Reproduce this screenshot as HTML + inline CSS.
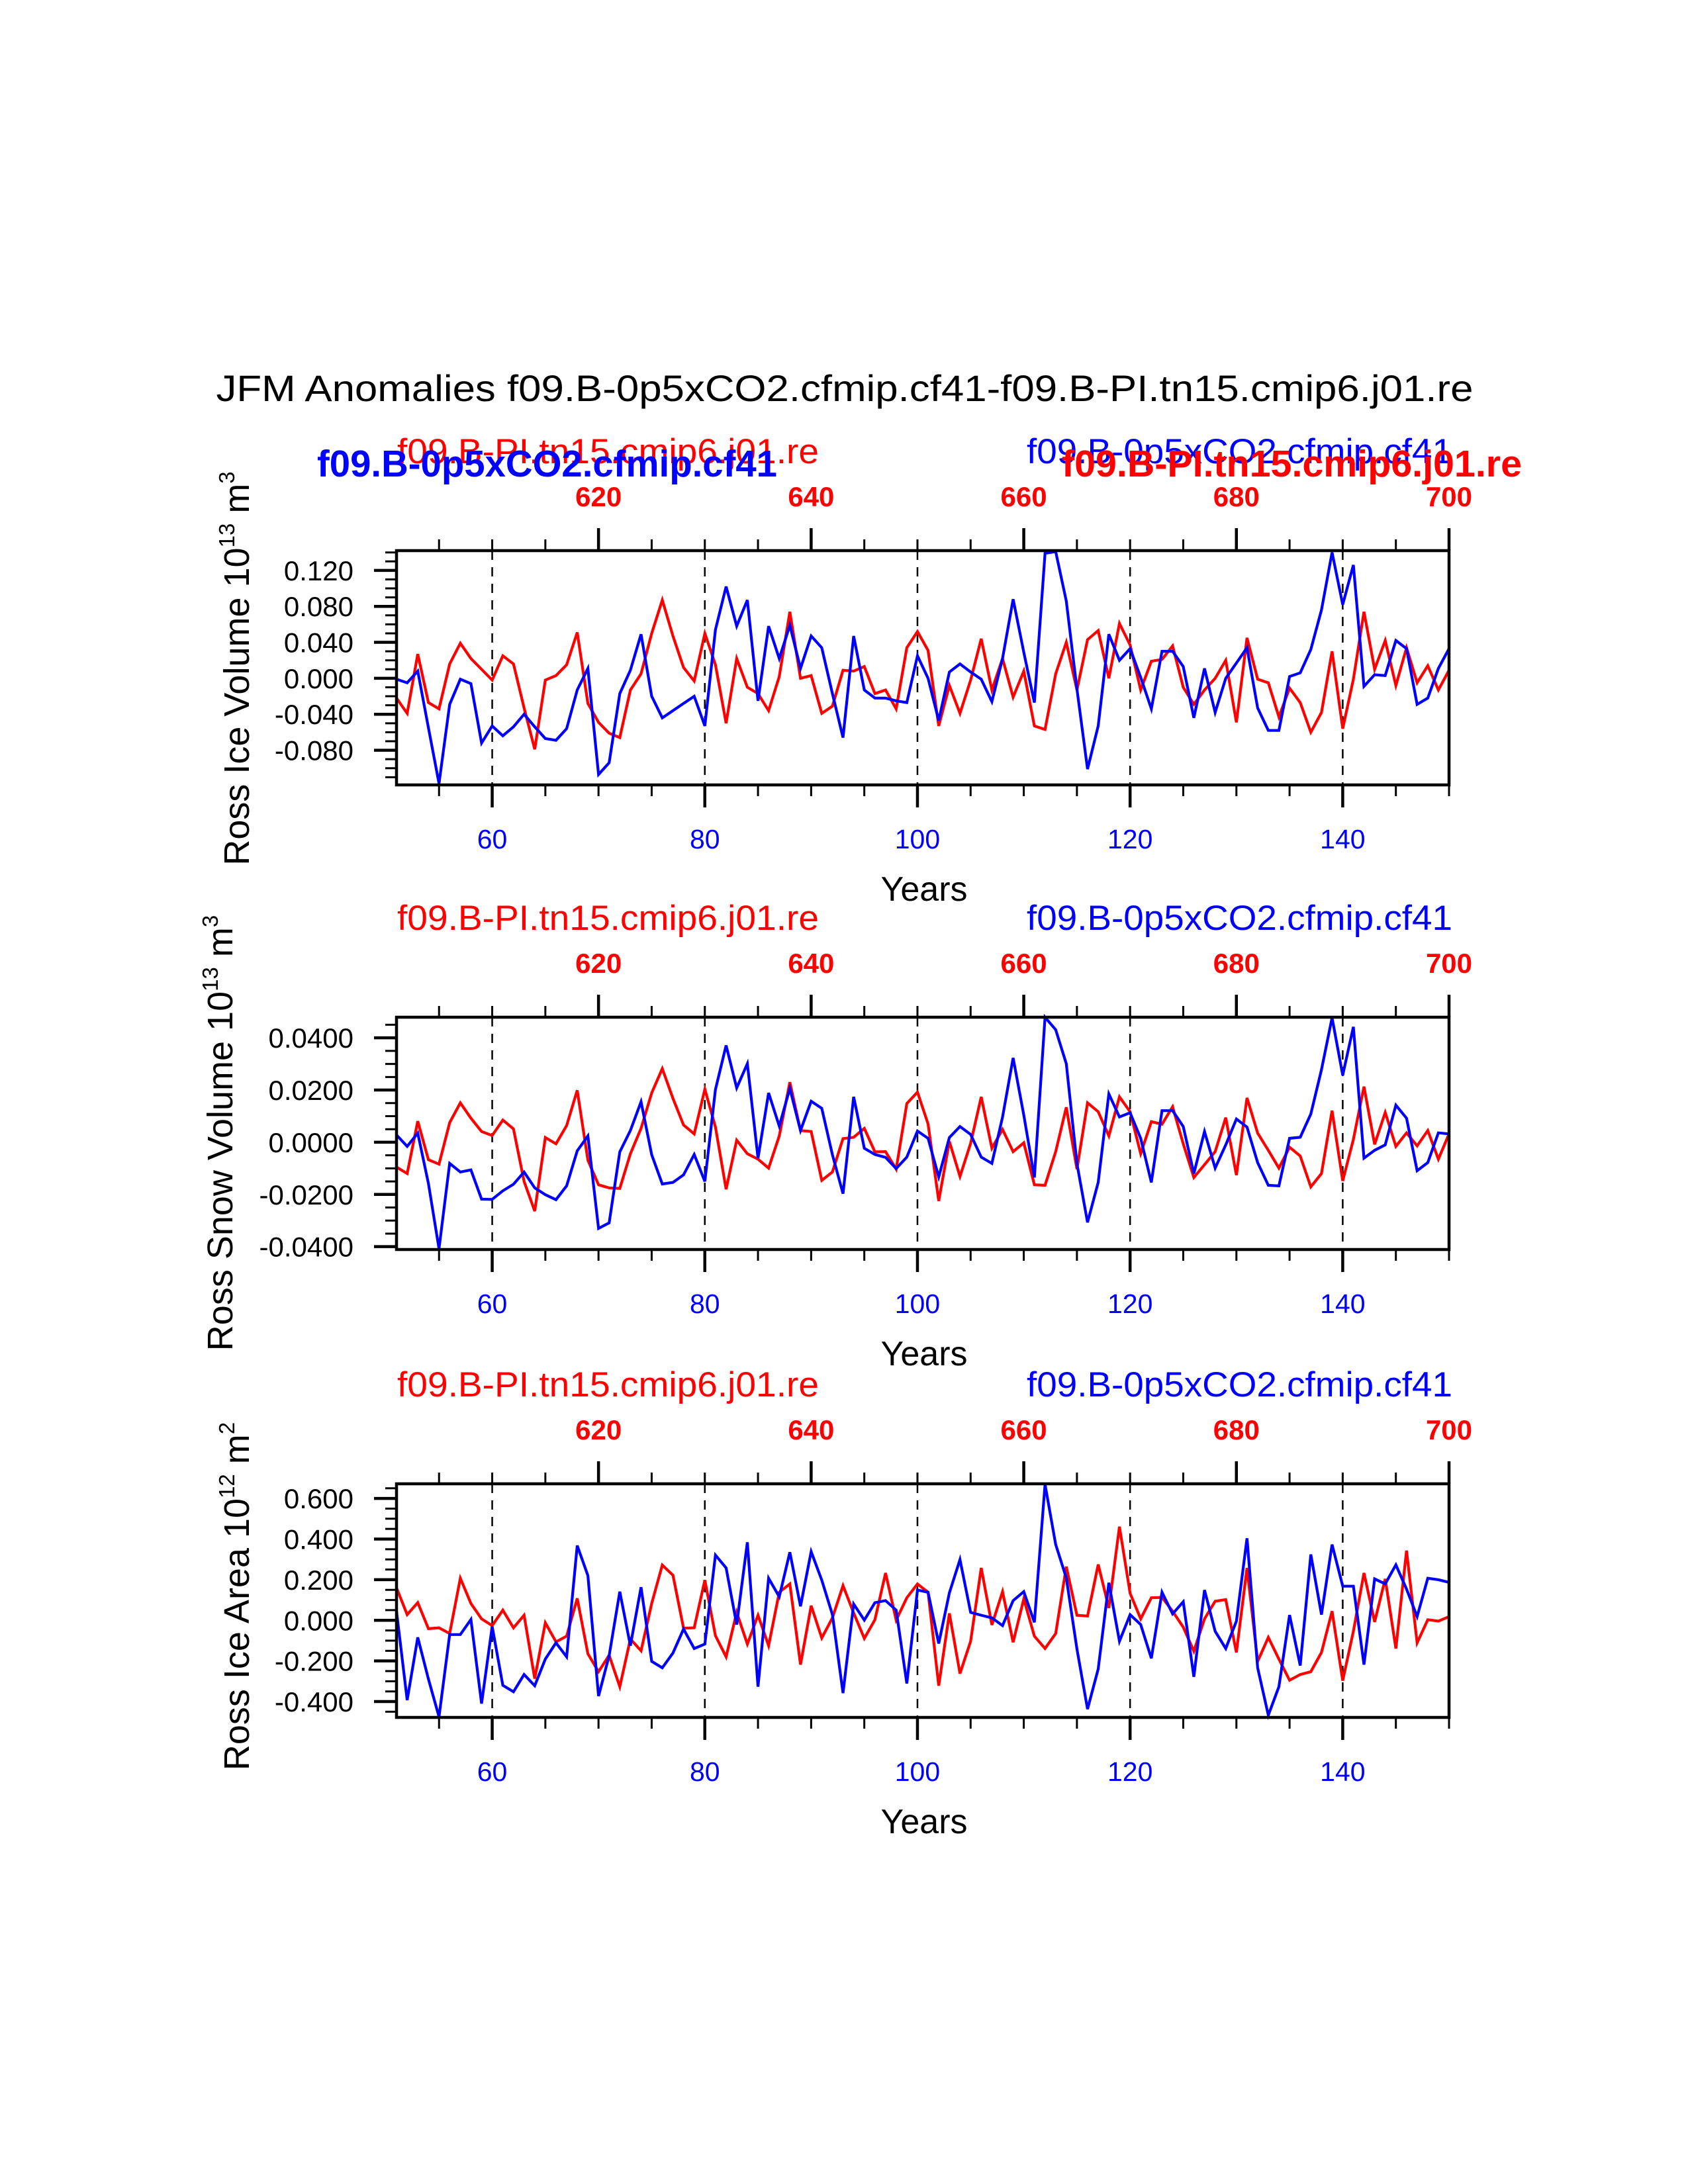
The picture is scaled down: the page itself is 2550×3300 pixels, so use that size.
<!DOCTYPE html>
<html><head><meta charset="utf-8"><style>
html,body{margin:0;padding:0;background:#fff;}
svg{display:block;}
text{font-family:"Liberation Sans",Arial,sans-serif;}
</style></head><body>
<svg id="chart" xmlns="http://www.w3.org/2000/svg" width="2550" height="3300" viewBox="0 0 2550 3300">
<rect x="0" y="0" width="2550" height="3300" fill="#fff"/>
<text x="1276" y="606" font-size="56" text-anchor="middle" textLength="1899" lengthAdjust="spacingAndGlyphs" fill="#000">JFM Anomalies f09.B-0p5xCO2.cfmip.cf41-f09.B-PI.tn15.cmip6.j01.re</text>
<g id="panels"></g>
</svg>
<script>
// ---------- data ----------
const years = [];
for (let y = 51; y <= 150; y++) years.push(y);
const bottomTicks = [60, 80, 100, 120, 140];
const topTickYears = [70, 90, 110, 130, 150];
const topTickLabels = ["620", "640", "660", "680", "700"];

const iceVolBlue = [-0.001,-0.005,0.008,-0.055,-0.117,-0.029,-0.001,-0.006,-0.072,-0.053,
-0.064,-0.054,-0.040,-0.054,-0.067,-0.069,-0.056,-0.013,0.011,-0.107,
-0.094,-0.017,0.009,0.049,-0.020,-0.044,-0.036,-0.028,-0.020,-0.053,
0.054,0.102,0.058,0.087,-0.025,0.058,0.022,0.059,0.011,0.047,
0.034,-0.017,-0.066,0.047,-0.013,-0.022,-0.022,-0.025,-0.027,0.025,
0.000,-0.047,0.007,0.016,0.007,-0.001,-0.026,0.022,0.088,0.029,
-0.027,0.139,0.141,0.086,-0.012,-0.101,-0.053,0.049,0.020,0.033,
0.001,-0.034,0.030,0.030,0.013,-0.044,0.011,-0.038,0.000,0.017,
0.034,-0.033,-0.058,-0.058,0.002,0.006,0.032,0.076,0.140,0.082,
0.126,-0.009,0.004,0.003,0.042,0.033,-0.029,-0.022,0.011,0.033];
const iceVolRed = [-0.022,-0.039,0.027,-0.027,-0.034,0.016,0.039,0.022,0.010,-0.002,
0.025,0.016,-0.033,-0.079,-0.002,0.003,0.015,0.051,-0.028,-0.049,
-0.061,-0.066,-0.013,0.005,0.050,0.087,0.047,0.012,-0.003,0.050,
0.015,-0.050,0.022,-0.010,-0.017,-0.036,0.002,0.074,0.000,0.003,
-0.039,-0.031,0.009,0.008,0.013,-0.017,-0.013,-0.034,0.034,0.052,
0.031,-0.053,-0.008,-0.039,-0.002,0.044,-0.013,0.022,-0.021,0.008,
-0.053,-0.057,0.005,0.040,-0.013,0.043,0.053,0.000,0.061,0.037,
-0.013,0.019,0.021,0.036,-0.010,-0.029,-0.013,0.000,0.020,-0.049,
0.045,-0.001,-0.005,-0.043,-0.011,-0.027,-0.060,-0.038,0.030,-0.056,
-0.001,0.074,0.010,0.042,-0.008,0.034,-0.005,0.014,-0.013,0.009];

const snowVolBlue = [0.0028,-0.0016,0.0035,-0.0158,-0.0408,-0.0081,-0.0114,-0.0106,-0.0218,-0.0219,
-0.0186,-0.0161,-0.0114,-0.0175,-0.0201,-0.0220,-0.0167,-0.0033,0.0024,-0.0330,
-0.0309,-0.0037,0.0045,0.0155,-0.0048,-0.0160,-0.0154,-0.0125,-0.0047,-0.0150,
0.0202,0.0371,0.0208,0.0301,-0.0061,0.0189,0.0062,0.0206,0.0045,0.0157,
0.0130,-0.0048,-0.0197,0.0174,-0.0023,-0.0047,-0.0058,-0.0101,-0.0057,0.0043,
0.0015,-0.0133,0.0018,0.0060,0.0030,-0.0057,-0.0081,0.0096,0.0323,0.0104,
-0.0135,0.0479,0.0431,0.0301,-0.0082,-0.0307,-0.0154,0.0185,0.0097,0.0113,
0.0015,-0.0154,0.0121,0.0121,0.0060,-0.0120,0.0041,-0.0099,-0.0010,0.0089,
0.0058,-0.0078,-0.0165,-0.0167,0.0015,0.0019,0.0108,0.0278,0.0477,0.0257,
0.0442,-0.0061,-0.0031,-0.0010,0.0142,0.0092,-0.0109,-0.0078,0.0036,0.0032];
const snowVolRed = [-0.0095,-0.0120,0.0081,-0.0067,-0.0084,0.0075,0.0151,0.0092,0.0041,0.0026,
0.0085,0.0051,-0.0150,-0.0264,0.0018,-0.0006,0.0064,0.0199,-0.0069,-0.0163,
-0.0175,-0.0177,-0.0044,0.0053,0.0189,0.0282,0.0168,0.0066,0.0032,0.0203,
0.0058,-0.0180,0.0008,-0.0044,-0.0065,-0.0099,0.0024,0.0230,0.0045,0.0041,
-0.0146,-0.0114,0.0014,0.0019,0.0053,-0.0037,-0.0036,-0.0103,0.0148,0.0192,
0.0070,-0.0225,0.0003,-0.0131,-0.0004,0.0174,-0.0023,0.0049,-0.0036,-0.0002,
-0.0163,-0.0165,-0.0036,0.0134,-0.0103,0.0151,0.0117,0.0024,0.0174,0.0117,
-0.0044,0.0079,0.0069,0.0136,-0.0006,-0.0135,-0.0086,-0.0036,0.0094,-0.0126,
0.0170,0.0035,-0.0031,-0.0099,-0.0019,-0.0053,-0.0171,-0.0120,0.0121,-0.0148,
0.0011,0.0213,-0.0008,0.0114,-0.0016,0.0036,-0.0014,0.0045,-0.0065,0.0032];

const iceAreaBlue = [0.045,-0.393,-0.084,-0.289,-0.475,-0.070,-0.070,0.004,-0.410,-0.030,
-0.320,-0.352,-0.267,-0.322,-0.191,-0.111,-0.180,0.368,0.220,-0.373,
-0.174,0.141,-0.125,0.163,-0.202,-0.234,-0.161,-0.043,-0.139,-0.117,
0.321,0.258,-0.021,0.384,-0.327,0.207,0.116,0.335,0.069,0.338,
0.198,0.028,-0.358,0.080,0.001,0.087,0.097,0.050,-0.311,0.149,
0.138,-0.114,0.135,0.299,0.039,0.025,0.012,-0.026,0.097,0.141,
-0.010,0.669,0.373,0.209,-0.141,-0.437,-0.240,0.185,-0.103,0.028,
-0.021,-0.187,0.138,0.032,0.091,-0.278,0.149,-0.054,-0.139,-0.004,
0.404,-0.234,-0.467,-0.327,0.026,-0.223,0.324,0.028,0.373,0.168,
0.168,-0.218,0.204,0.179,0.273,0.154,0.018,0.207,0.200,0.187];
const iceAreaRed = [0.160,0.028,0.087,-0.041,-0.037,-0.065,0.207,0.083,0.007,-0.026,
0.050,-0.037,0.025,-0.287,-0.012,-0.106,-0.078,0.108,-0.165,-0.253,
-0.172,-0.327,-0.092,-0.150,0.083,0.272,0.222,-0.039,-0.037,0.198,
-0.076,-0.180,0.039,-0.117,0.025,-0.125,0.138,0.179,-0.218,0.072,
-0.087,0.012,0.171,0.036,-0.089,0.003,0.233,0.001,0.111,0.179,
0.138,-0.322,0.034,-0.262,-0.103,0.258,-0.023,0.141,-0.108,0.105,
-0.078,-0.139,-0.065,0.264,0.025,0.021,0.275,0.061,0.461,0.133,
0.007,0.111,0.113,0.045,-0.034,-0.152,0.007,0.094,0.102,-0.158,
0.258,-0.202,-0.084,-0.191,-0.295,-0.267,-0.253,-0.158,0.045,-0.297,
-0.054,0.233,-0.008,0.204,-0.139,0.343,-0.111,0.003,-0.004,0.018];

const panel1Ticks = [-0.08,-0.04,0,0.04,0.08,0.12];
const panel1TickLabels = ["-0.080","-0.040","0.000","0.040","0.080","0.120"];
const panel2Ticks = [-0.04,-0.02,0,0.02,0.04];
const panel2TickLabels = ["-0.0400","-0.0200","0.0000","0.0200","0.0400"];
const panel3Ticks = [-0.4,-0.2,0,0.2,0.4,0.6];
const panel3TickLabels = ["-0.400","-0.200","0.000","0.200","0.400","0.600"];

// ---------- layout ----------
const NS = "http://www.w3.org/2000/svg";
const X0 = 599, X1 = 2189, YR0 = 51, YR1 = 150;
function xScale(yr){ return X0 + (yr - YR0) * (X1 - X0) / (YR1 - YR0); }

const panels = [
  {name:"ice-volume", top:832, bottom:1186, vmin:-0.1186, vmax:0.142, minorStep:0.01,
   ticks:panel1Ticks, labels:panel1TickLabels, blue:iceVolBlue, red:iceVolRed,
   ytitle:"Ross Ice Volume 10", sup:"13", unit:" m", unitSup:"3", titleCx:358, titleCy:1010, overlap:true},
  {name:"snow-volume", top:1537, bottom:1888, vmin:-0.0411, vmax:0.0479, minorStep:0.005,
   ticks:panel2Ticks, labels:panel2TickLabels, blue:snowVolBlue, red:snowVolRed,
   ytitle:"Ross Snow Volume 10", sup:"13", unit:" m", unitSup:"3", titleCx:333, titleCy:1712, overlap:false},
  {name:"ice-area", top:2242, bottom:2595, vmin:-0.478, vmax:0.672, minorStep:0.05,
   ticks:panel3Ticks, labels:panel3TickLabels, blue:iceAreaBlue, red:iceAreaRed,
   ytitle:"Ross Ice Area 10", sup:"12", unit:" m", unitSup:"2", titleCx:358, titleCy:2412, overlap:false}
];

const root = document.getElementById("panels");
function mk(tag, attrs, parent){
  const e = document.createElementNS(NS, tag);
  for (const k in attrs) e.setAttribute(k, attrs[k]);
  (parent || root).appendChild(e);
  return e;
}

panels.forEach(function(p){
  const g = mk("g", {});
  
  
  const yScale = function(v){ return p.bottom - (v - p.vmin) * (p.bottom - p.top) / (p.vmax - p.vmin); };

  bottomTicks.forEach(function(t){
    const l = mk("line", {x1:xScale(t), x2:xScale(t), y1:p.top, y2:p.bottom, stroke:"#000", "stroke-width":2.5, "stroke-dasharray":"14 11"}, g);
    
    
  });

  [["red", p.red, "#ff0000"], ["blue", p.blue, "#0000ff"]].forEach(function(s){
    let d = "";
    s[1].forEach(function(v, i){ d += (i ? "L" : "M") + xScale(years[i]).toFixed(1) + " " + yScale(v).toFixed(1); });
    const path = mk("path", {d:d, fill:"none", stroke:s[2], "stroke-width":4.2, "stroke-linejoin":"miter", "stroke-miterlimit":4}, g);
    
    
  });

  const fr = mk("rect", {x:X0, y:p.top, width:X1 - X0, height:p.bottom - p.top, fill:"none", stroke:"#000", "stroke-width":4.5}, g);
  
  

  const kmin = Math.ceil(p.vmin / p.minorStep - 1e-6), kmax = Math.floor(p.vmax / p.minorStep + 1e-6);
  for (let k = kmin; k <= kmax; k++){
    const v = k * p.minorStep, y = yScale(v);
    const isMajor = p.ticks.some(function(t){ return Math.abs(t - v) < p.minorStep / 10; });
    const tk = mk("line", {x1:X0 - (isMajor ? 34 : 17), x2:X0, y1:y, y2:y, stroke:"#000", "stroke-width":isMajor ? 4.5 : 3}, g);
    
    
  }
  p.ticks.forEach(function(t, i){
    const tx = mk("text", {x:534, y:yScale(t) + 15, "font-size":42, "text-anchor":"end", fill:"#000"}, g);
    tx.textContent = p.labels[i];
    
    
  });

  for (let yr = 55; yr <= 150; yr += 5){
    const isMajor = bottomTicks.indexOf(yr) >= 0;
    const tk = mk("line", {x1:xScale(yr), x2:xScale(yr), y1:p.bottom, y2:p.bottom + (isMajor ? 34 : 17), stroke:"#000", "stroke-width":isMajor ? 4.5 : 3}, g);
    
    
  }
  bottomTicks.forEach(function(t){
    const tx = mk("text", {x:xScale(t), y:p.bottom + 96, "font-size":41, "text-anchor":"middle", fill:"#0000ff"}, g);
    tx.textContent = String(t);
    
    
  });

  for (let yr = 55; yr <= 150; yr += 5){
    const isMajor = topTickYears.indexOf(yr) >= 0;
    const tk = mk("line", {x1:xScale(yr), x2:xScale(yr), y1:p.top, y2:p.top - (isMajor ? 34 : 17), stroke:"#000", "stroke-width":isMajor ? 4.5 : 3}, g);
    
    
  }
  topTickYears.forEach(function(t, i){
    const tx = mk("text", {x:xScale(t), y:p.top - 67, "font-size":42, "font-weight":"bold", "text-anchor":"middle", fill:"#ff0000"}, g);
    tx.textContent = topTickLabels[i];
    
    
  });

  const xt = mk("text", {x:1396, y:p.bottom + 175, "font-size":52, "text-anchor":"middle", fill:"#000"}, g);
  xt.textContent = "Years";
  
  

  const yt = mk("text", {x:p.titleCx, y:p.titleCy, "font-size":54, "text-anchor":"middle", fill:"#000", transform:"rotate(-90 " + p.titleCx + " " + p.titleCy + ")", dy:"18"}, g);
  
  
  const t1 = mk("tspan", {}, yt); t1.textContent = p.ytitle;
  const t2 = mk("tspan", {dy:"-22", "font-size":33}, yt); t2.textContent = p.sup;
  const t3 = mk("tspan", {dy:"22"}, yt); t3.textContent = p.unit;
  const t4 = mk("tspan", {dy:"-22", "font-size":33}, yt); t4.textContent = p.unitSup;

  const baseY = p.top - 132;
  const r1 = mk("text", {x:600, y:baseY, "font-size":53, fill:"#ff0000", textLength:637, lengthAdjust:"spacingAndGlyphs"}, g);
  r1.textContent = "f09.B-PI.tn15.cmip6.j01.re";
  
  
  const b1 = mk("text", {x:1551, y:baseY, "font-size":53, fill:"#0000ff", textLength:643, lengthAdjust:"spacingAndGlyphs"}, g);
  b1.textContent = "f09.B-0p5xCO2.cfmip.cf41";
  
  
  if (p.overlap){
    const b2 = mk("text", {x:479, y:baseY + 20, "font-size":57, "font-weight":"bold", fill:"#0000ff", textLength:695, lengthAdjust:"spacingAndGlyphs"}, g);
    b2.textContent = "f09.B-0p5xCO2.cfmip.cf41";
    
    
    const r2 = mk("text", {x:1604, y:baseY + 20, "font-size":57, "font-weight":"bold", fill:"#ff0000", textLength:695, lengthAdjust:"spacingAndGlyphs"}, g);
    r2.textContent = "f09.B-PI.tn15.cmip6.j01.re";
    
    
  }
});
</script>
</body></html>
